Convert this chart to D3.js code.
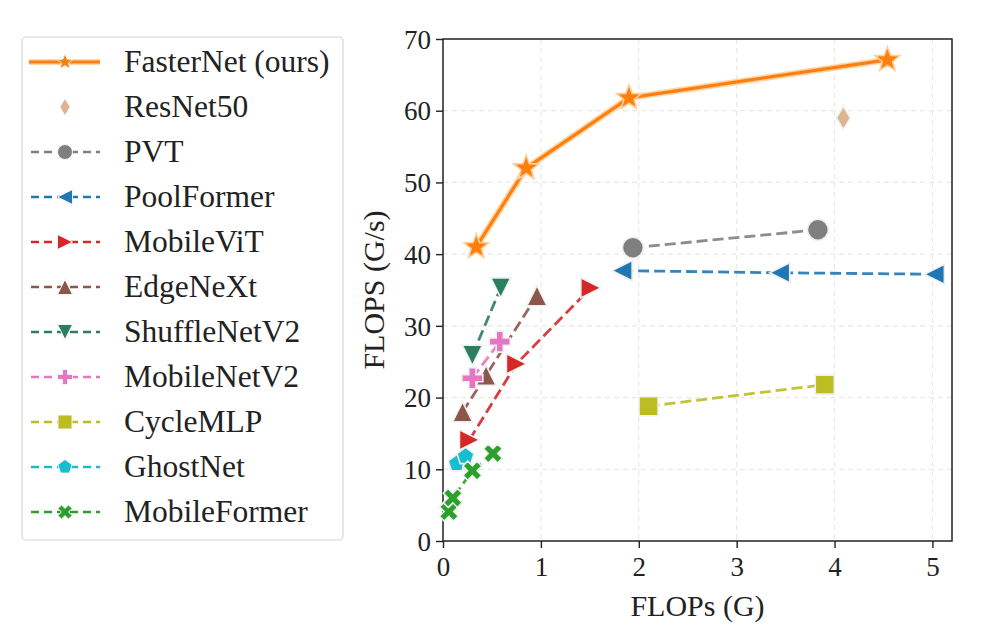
<!DOCTYPE html>
<html>
<head>
<meta charset="utf-8">
<script src="https://cdn.jsdelivr.net/npm/d3@7"></script>
<style>
  body { margin: 0; background: #fff; }
  svg { font-family: "Liberation Serif", "Times New Roman", serif; }
</style>
</head>
<body>
<div id="chart"></div>
<script>
// Series names (legend order)
var seriesNames = ["FasterNet (ours)", "ResNet50", "PVT", "PoolFormer", "MobileViT",
  "EdgeNeXt", "ShuffleNetV2", "MobileNetV2", "CycleMLP", "GhostNet", "MobileFormer"];

// FLOPs (G) and FLOPS (G/s)
var fasterNetFlops = [0.34, 0.85, 1.90, 4.54];
var fasterNetSpeed = [41.0, 52.0, 61.8, 67.1];
var resNetFlops = [4.09];
var resNetSpeed = [59.0];
var pvtFlops = [1.94, 3.83];
var pvtSpeed = [40.9, 43.4];
var poolFormerFlops = [1.83, 3.44, 5.02];
var poolFormerSpeed = [37.7, 37.4, 37.2];
var mobileViTFlops = [0.27, 0.75, 1.51];
var mobileViTSpeed = [14.1, 24.7, 35.3];
var edgeNeXtFlops = [0.20, 0.44, 0.96];
var edgeNeXtSpeed = [18.0, 23.1, 34.2];
var shuffleFlops = [0.30, 0.59];
var shuffleSpeed = [25.9, 35.3];
var mobileNetFlops = [0.30, 0.58];
var mobileNetSpeed = [22.7, 27.8];
var cycleMLPFlops = [2.10, 3.90];
var cycleMLPSpeed = [18.8, 21.8];
var ghostNetFlops = [0.14, 0.23];
var ghostNetSpeed = [10.8, 11.8];
var mobileFormerFlops = [0.06, 0.10, 0.30, 0.51];
var mobileFormerSpeed = [4.1, 6.0, 9.8, 12.2];

var xTicks = [0, 1, 2, 3, 4, 5];
var yTicks = [0, 10, 20, 30, 40, 50, 60, 70];

// per-series style
var styles = [
  { color: "#ff7f0e", marker: "star", r: 13, dash: null, lr: 8.5 },
  { color: "#dcb48e", marker: "thinDiamond", r: 11.5, dash: "none", lr: 8.5 },
  { color: "#7f7f7f", marker: "circle", r: 10.5, dash: "11,5", lr: 7.5 },
  { color: "#1f77b4", marker: "triLeft", r: 10, dash: "11,5", lr: 7.5 },
  { color: "#d62728", marker: "triRight", r: 10, dash: "11,5", lr: 7.5 },
  { color: "#8c564b", marker: "triUp", r: 10, dash: "11,5", lr: 7.5 },
  { color: "#2a7f5c", marker: "triDown", r: 10, dash: "11,5", lr: 7.5 },
  { color: "#e377c2", marker: "plus", r: 10.5, dash: "11,5", lr: 7.5 },
  { color: "#bcbd22", marker: "square", r: 9.5, dash: "11,5", lr: 7 },
  { color: "#17becf", marker: "pentagon", r: 9, dash: "11,5", lr: 7.5 },
  { color: "#2ca02c", marker: "xFilled", r: 10, dash: "11,5", lr: 7.5 }
];

var xs = [fasterNetFlops, resNetFlops, pvtFlops, poolFormerFlops, mobileViTFlops, edgeNeXtFlops,
  shuffleFlops, mobileNetFlops, cycleMLPFlops, ghostNetFlops, mobileFormerFlops];
var ys = [fasterNetSpeed, resNetSpeed, pvtSpeed, poolFormerSpeed, mobileViTSpeed, edgeNeXtSpeed,
  shuffleSpeed, mobileNetSpeed, cycleMLPSpeed, ghostNetSpeed, mobileFormerSpeed];

// custom marker shapes, size = radius
function polyType(pts) {
  return { draw: function(ctx, r) {
    pts.forEach(function(p, i) {
      if (i === 0) ctx.moveTo(p[0] * r, p[1] * r); else ctx.lineTo(p[0] * r, p[1] * r);
    });
    ctx.closePath();
  } };
}
function starPts() {
  var p = [];
  for (var i = 0; i < 10; i++) {
    var a = -Math.PI / 2 + i * Math.PI / 5;
    var rr = i % 2 ? 0.42 : 1;
    p.push([rr * Math.cos(a), rr * Math.sin(a)]);
  }
  return p;
}
function pentPts() {
  var p = [];
  for (var i = 0; i < 5; i++) {
    var a = -Math.PI / 2 + i * 2 * Math.PI / 5;
    p.push([Math.cos(a), Math.sin(a)]);
  }
  return p;
}
var w = 0.34;
var plusPts = [[-w,-1],[w,-1],[w,-w],[1,-w],[1,w],[w,w],[w,1],[-w,1],[-w,w],[-1,w],[-1,-w],[-w,-w]];
var c45 = Math.SQRT1_2;
var xPts = plusPts.map(function(p) { return [(p[0] - p[1]) * c45, (p[0] + p[1]) * c45]; });
var markerTypes = {
  star: polyType(starPts()),
  thinDiamond: polyType([[0,-1],[0.6,0],[0,1],[-0.6,0]]),
  circle: { draw: function(ctx, r) { ctx.moveTo(r, 0); ctx.arc(0, 0, r, 0, 2 * Math.PI); } },
  triLeft: polyType([[-1,0],[1,-1],[1,1]]),
  triRight: polyType([[1,0],[-1,-1],[-1,1]]),
  triUp: polyType([[0,-1],[1,1],[-1,1]]),
  triDown: polyType([[0,1],[1,-1],[-1,-1]]),
  plus: polyType(plusPts),
  square: polyType([[-1,-1],[1,-1],[1,1],[-1,1]]),
  pentagon: polyType(pentPts()),
  xFilled: polyType(xPts)
};

var svgWidth = 982, svgHeight = 634;
var margin = { top: 39, right: 30, bottom: 93, left: 443 };
var chartWidth = svgWidth - margin.left - margin.right;
var chartHeight = svgHeight - margin.top - margin.bottom;

var svg = d3.select("#chart").append("svg")
  .attr("width", svgWidth)
  .attr("height", svgHeight);

var chartGroup = svg.append("g")
  .attr("transform", `translate(${margin.left}, ${margin.top})`);

var x = d3.scaleLinear().domain([0, 5.2]).range([0, chartWidth]);
var y = d3.scaleLinear().domain([0, 70]).range([chartHeight, 0]);

// grid
chartGroup.append("g").selectAll("line").data(xTicks.slice(1)).enter().append("line")
  .attr("x1", d => x(d)).attr("x2", d => x(d)).attr("y1", 0).attr("y2", chartHeight)
  .attr("stroke", "#e8e8e8").attr("stroke-width", 1.2).attr("stroke-dasharray", "5,4");
chartGroup.append("g").selectAll("line").data(yTicks.slice(1, -1)).enter().append("line")
  .attr("x1", 0).attr("x2", chartWidth).attr("y1", d => y(d)).attr("y2", d => y(d))
  .attr("stroke", "#e8e8e8").attr("stroke-width", 1.2).attr("stroke-dasharray", "5,4");

// axes
var xAxis = d3.axisBottom(x).tickValues(xTicks).tickSize(7).tickPadding(6).tickFormat(d3.format("d"));
var yAxis = d3.axisLeft(y).tickValues(yTicks).tickSize(7).tickPadding(5).tickFormat(d3.format("d"));
var gx = chartGroup.append("g").attr("transform", `translate(0, ${chartHeight})`).call(xAxis);
var gy = chartGroup.append("g").call(yAxis);
[gx, gy].forEach(function(g) {
  g.select(".domain").remove();
  g.selectAll(".tick line").attr("stroke", "#222").attr("stroke-width", 1.4);
  g.selectAll(".tick text").attr("fill", "#222")
    .style("font-family", "'Liberation Serif', 'Times New Roman', serif").style("font-size", "27px");
});
gx.selectAll(".tick text").attr("dy", "0.8em");
gy.selectAll(".tick text").attr("dy", "0.34em");

// frame
chartGroup.append("rect").attr("x", 0).attr("y", 0)
  .attr("width", chartWidth).attr("height", chartHeight)
  .attr("fill", "none").attr("stroke", "#222").attr("stroke-width", 1.5);

// lines and markers
var line = d3.line().x(d => x(d[0])).y(d => y(d[1]));
seriesNames.forEach(function(name, i) {
  var st = styles[i];
  var pts = xs[i].map(function(v, j) { return [v, ys[i][j]]; });
  if (st.dash === null) {
    chartGroup.append("path").datum(pts).attr("d", line).attr("fill", "none")
      .attr("stroke", "#ffd7a8").attr("stroke-width", 6.5).attr("stroke-linejoin", "round");
    chartGroup.append("path").datum(pts).attr("d", line).attr("fill", "none")
      .attr("stroke", st.color).attr("stroke-width", 3.2).attr("stroke-linejoin", "round");
  } else if (st.dash !== "none") {
    chartGroup.append("path").datum(pts).attr("d", line).attr("fill", "none")
      .attr("stroke", st.color).attr("stroke-width", 2.8).attr("stroke-dasharray", st.dash)
      .attr("opacity", 0.9);
  }
  chartGroup.append("g").selectAll("path").data(pts).enter().append("path")
    .attr("transform", d => `translate(${x(d[0])}, ${y(d[1])})`)
    .attr("d", d3.symbol().type(markerTypes[st.marker]).size(st.r))
    .attr("fill", st.color)
    .attr("stroke", st.dash === null ? "#ffcf99" : "#f0f0f0")
    .attr("stroke-width", 1.6);
});

// axis labels
svg.append("text")
  .attr("x", margin.left + x(2.6)).attr("y", 616)
  .attr("text-anchor", "middle").attr("fill", "#222")
  .style("font-size", "30px").text("FLOPs (G)");
svg.append("text")
  .attr("transform", `translate(384, ${margin.top + chartHeight / 2}) rotate(-90)`)
  .attr("text-anchor", "middle").attr("fill", "#222")
  .style("font-size", "30px").text("FLOPS (G/s)");

// legend
var legend = svg.append("g");
legend.append("rect").attr("x", 22).attr("y", 37).attr("width", 321).attr("height", 503)
  .attr("rx", 4).attr("fill", "#fff").attr("stroke", "#d6d6d6").attr("stroke-width", 1.2);
seriesNames.forEach(function(name, i) {
  var st = styles[i];
  var cy = 62 + i * 45;
  var row = legend.append("g").attr("transform", `translate(0, ${cy})`);
  if (st.dash === null) {
    row.append("line").attr("x1", 29).attr("x2", 100).attr("y1", 0).attr("y2", 0)
      .attr("stroke", "#ffd7a8").attr("stroke-width", 6);
    row.append("line").attr("x1", 29).attr("x2", 100).attr("y1", 0).attr("y2", 0)
      .attr("stroke", st.color).attr("stroke-width", 3);
  } else if (st.dash !== "none") {
    row.append("line").attr("x1", 31).attr("x2", 100).attr("y1", 0).attr("y2", 0)
      .attr("stroke", st.color).attr("stroke-width", 2.6).attr("stroke-dasharray", "8,5");
  }
  row.append("path").attr("transform", "translate(65, 0)")
    .attr("d", d3.symbol().type(markerTypes[st.marker]).size(st.lr))
    .attr("fill", st.color).attr("stroke", "#f4f4f4").attr("stroke-width", 1);
  row.append("text").attr("x", 124).attr("y", 0).attr("dy", "0.33em")
    .attr("fill", "#222").style("font-size", "31.5px").text(name);
});
</script>
</body>
</html>
